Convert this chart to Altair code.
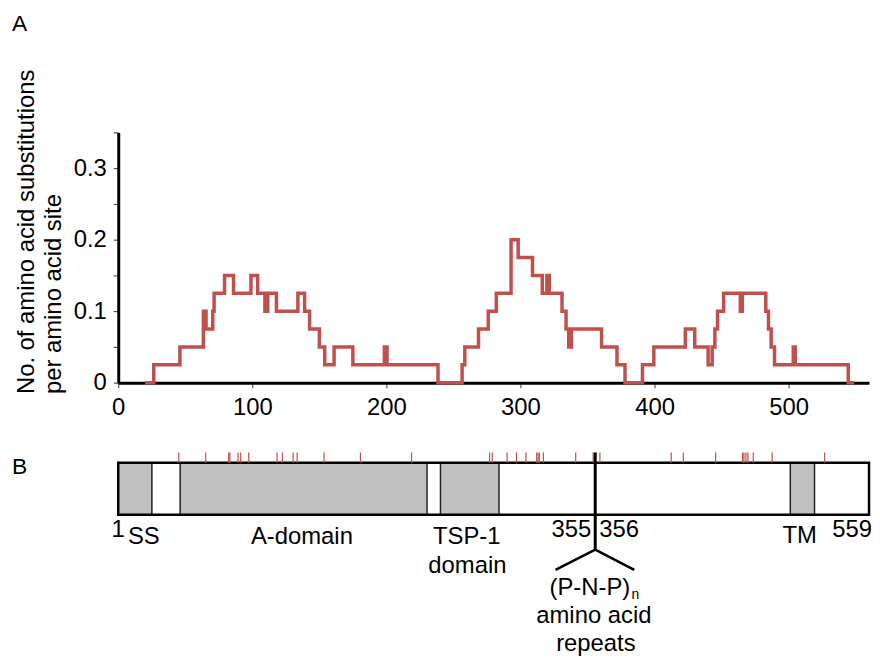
import altair as alt
import pandas as pd

# ---------- Panel A: sliding-window substitution rate (step profile) ----------
residue = [20, 26.5, 46, 63.5, 65.5, 70.5, 71.5, 79.3, 86, 99, 104, 109.4, 111.5, 118,
           134, 139, 142.7, 150, 154, 161, 175, 198.5, 200.5, 238.5, 256.5, 258.5,
           268.7, 276, 282, 293, 298.3, 309, 316.3, 319.7, 321.5, 331, 334, 336, 338,
           360.5, 372, 378, 391, 399.5, 423, 430, 440, 443, 445, 447, 451.5, 464,
           465.5, 483, 485, 487, 489.5, 503.5, 505, 544.5, 549]
subst_rate = [0, 0.025, 0.05, 0.1, 0.075, 0.1, 0.125, 0.15, 0.125, 0.15, 0.125, 0.1,
              0.125, 0.1, 0.125, 0.1, 0.075, 0.05, 0.025, 0.05, 0.025, 0.05, 0.025, 0,
              0.025, 0.05, 0.075, 0.1, 0.125, 0.2, 0.175, 0.15, 0.125, 0.15, 0.125,
              0.1, 0.075, 0.05, 0.075, 0.05, 0.025, 0, 0.025, 0.05, 0.075, 0.05, 0.025,
              0.05, 0.075, 0.1, 0.125, 0.1, 0.125, 0.1, 0.075, 0.05, 0.025, 0.05,
              0.025, 0, 0]
x_ticks = [0, 100, 200, 300, 400, 500]
y_ticks = [0, 0.05, 0.1, 0.15, 0.2, 0.25, 0.3, 0.35]

# ---------- Panel B: protein domain map ----------
protein_length = 559
domain_names = ["SS", "A-domain", "TSP-1", "TM"]
domain_start = [1, 47, 240.5, 500.5]
domain_end = [26, 230.5, 284, 518.5]
substitution_sites = [46, 66, 83, 84, 90, 92, 98, 119, 123, 131, 134, 154, 181, 219,
                      277, 279, 290, 297, 304, 312, 313, 314, 317, 341, 354, 359, 412,
                      421, 445, 465, 466, 467.5, 469, 473, 487, 526]
repeat_boundary = 355.5
label_texts = ["1", "SS", "A-domain", "TSP-1", "domain", "355", "356", "TM", "559",
               "(P-N-P)", "amino acid", "repeats"]
label_pos = [1, 20, 137.5, 260, 260.5, 355.5, 355.5, 507.5, 559, 351.5, 354.5, 356]
label_row = [1.42, 1.56, 1.56, 1.56, 2.12, 1.42, 1.42, 1.55, 1.42, 2.55, 3.09, 3.63]
label_align = ["center", "center", "center", "center", "center", "right", "left",
               "center", "right", "center", "center", "center"]
label_dx = [0, 0, 0, 0, 0, -4, 4, 0, 3, 0, 0, 0]

FONT = "Liberation Sans"
RED = "#C0504D"

dfA = pd.DataFrame({"residue": residue, "rate": subst_rate})

xA = alt.X("residue:Q",
           scale=alt.Scale(domain=[0, 560], nice=False, zero=False),
           axis=alt.Axis(values=x_ticks, title=None, grid=False, domainColor="black",
                         domainWidth=3, tickColor="#333", tickSize=5, tickWidth=1,
                         labelFontSize=24, labelPadding=8, labelColor="black",
                         labelFlush=False, labelFont=FONT))
yA = alt.Y("rate:Q",
           scale=alt.Scale(domain=[0, 0.35], nice=False),
           axis=alt.Axis(values=y_ticks, grid=False, domainColor="black", domainWidth=3,
                         tickColor="#333", tickSize=5, tickWidth=1,
                         labelExpr="round(datum.value*20) % 2 == 0 ? format(datum.value, '~g') : ''",
                         labelFontSize=24, labelPadding=7, labelColor="black", labelFont=FONT,
                         title=["No. of amino acid substitutions", "per amino acid site"],
                         titleAnchor="start", titleAlign="left", titleFontSize=24,
                         titleFontWeight="normal", titleFont=FONT, titleColor="black",
                         titleLineHeight=27, titlePadding=8, titleY=263))

panelA = alt.Chart(dfA).mark_line(interpolate="step-after", color=RED,
                                  strokeWidth=3.5).encode(x=xA, y=yA).properties(
    width=756, height=252,
    title=alt.TitleParams("A", anchor="start", frame="group", dx=-107, fontSize=23,
                          fontWeight="normal", font=FONT, color="black", offset=33))

# Panel B layers
xs = alt.Scale(domain=[1, protein_length], nice=False, zero=False)
ys = alt.Scale(domain=[-0.3, 1], reverse=True, nice=False, zero=False)

box_df = pd.DataFrame({"start": [1], "end": [protein_length], "top": [0], "bottom": [1]})
dom_df = pd.DataFrame({"name": domain_names, "start": domain_start, "end": domain_end,
                       "top": 0, "bottom": 1})
site_df = pd.DataFrame({"site": substitution_sites, "top": -0.2, "bottom": 0})
div_df = pd.DataFrame({"x": [repeat_boundary], "top": [-0.2], "bottom": [1.67]})
fork_df = pd.DataFrame({"x": [repeat_boundary, repeat_boundary], "y": [1.67, 1.67],
                        "x2": [326, 384.5], "y2": [2.06, 2.06]})
lab_df = pd.DataFrame({"text": label_texts, "pos": label_pos, "row": label_row,
                       "align": label_align, "dx": label_dx})
sub_df = pd.DataFrame({"text": ["n"], "pos": [382.5], "row": [2.63]})

box_fill = alt.Chart(box_df).mark_rect(fill="white").encode(
    x=alt.X("start:Q", scale=xs, axis=None), x2="end:Q",
    y=alt.Y("top:Q", scale=ys, axis=None), y2="bottom:Q")
doms = alt.Chart(dom_df).mark_rect(fill="#C0C0C0", stroke="#222", strokeWidth=1.5).encode(
    x="start:Q", x2="end:Q", y="top:Q", y2="bottom:Q")
box_line = alt.Chart(box_df).mark_rect(fill="transparent", stroke="black",
                                       strokeWidth=2.5).encode(
    x="start:Q", x2="end:Q", y="top:Q", y2="bottom:Q")
sites = alt.Chart(site_df).mark_rule(color=RED, strokeWidth=1.2).encode(
    x="site:Q", y="top:Q", y2="bottom:Q")
divider = alt.Chart(div_df).mark_rule(color="black", strokeWidth=3).encode(
    x="x:Q", y="top:Q", y2="bottom:Q")
fork = alt.Chart(fork_df).mark_rule(color="black", strokeWidth=2.5).encode(
    x="x:Q", y="y:Q", x2="x2:Q", y2="y2:Q")

texts = []
for al in ["left", "center", "right"]:
    for dxv in sorted(set(label_dx)):
        sub = lab_df[(lab_df["align"] == al) & (lab_df["dx"] == dxv)]
        if len(sub) == 0:
            continue
        texts.append(alt.Chart(sub).mark_text(align=al, dx=dxv, baseline="alphabetic",
                                              fontSize=24, font=FONT, color="black").encode(
            x="pos:Q", y="row:Q", text="text:N"))
subscript = alt.Chart(sub_df).mark_text(align="left", baseline="alphabetic", fontSize=14,
                                        font=FONT, color="black").encode(
    x="pos:Q", y="row:Q", text="text:N")

panelB = alt.layer(box_fill, doms, box_line, sites, divider, fork, *texts, subscript).properties(
    width=756, height=68,
    title=alt.TitleParams("B", anchor="start", frame="group", dx=-107, fontSize=23,
                          fontWeight="normal", font=FONT, color="black",
                          baseline="alphabetic", offset=-49.5))

chart = alt.vconcat(panelA, panelB, spacing=28).resolve_scale(x="independent").properties(
    padding={"left": 4, "top": 3, "right": 0, "bottom": 0}
).configure(font=FONT).configure_view(stroke=None)

chart.save("out.html", embed_options={"renderer": "svg", "actions": False})
